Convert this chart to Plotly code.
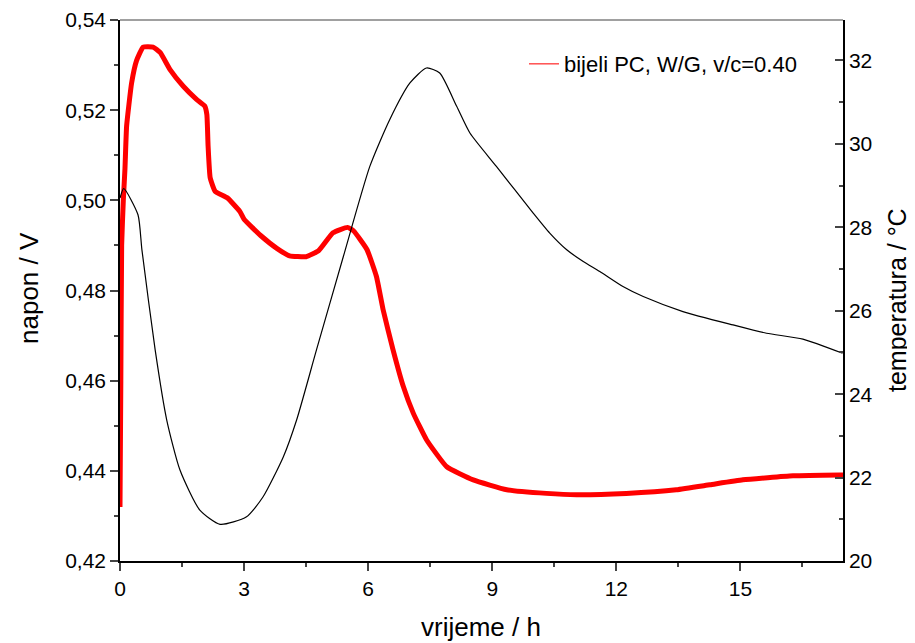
import plotly.graph_objects as go

# napon (V) vs vrijeme (h)
red_t = [0, 0.02, 0.04, 0.08, 0.12, 0.16, 0.28, 0.40, 0.56, 0.80, 0.97, 1.21, 1.53, 1.85,
         2.05, 2.10, 2.13, 2.18, 2.30, 2.60, 2.90, 3.00, 3.40, 3.80, 4.10, 4.50, 4.80, 5.15,
         5.50, 5.65, 5.97, 6.20, 6.36, 6.60, 6.85, 7.09, 7.41, 7.90, 8.54, 9.35, 10.31, 11.04,
         12.24, 13.45, 14.26, 15.06, 16.27, 17.40, 17.48]
red_v = [0.432, 0.460, 0.490, 0.500, 0.507, 0.5165, 0.526, 0.531, 0.534, 0.534, 0.5328, 0.529,
         0.5253, 0.5224, 0.5209, 0.519, 0.512, 0.505, 0.502, 0.5005, 0.4975, 0.4958, 0.4922,
         0.4893, 0.4877, 0.4875, 0.4888, 0.4928, 0.494, 0.4932, 0.4891, 0.4831, 0.4758, 0.4669,
         0.4587, 0.4528, 0.4469, 0.4409, 0.4380, 0.4358, 0.4350, 0.4347, 0.4350, 0.4358, 0.4369,
         0.4380, 0.4389, 0.4391, 0.4391]

# temperatura (°C) vs vrijeme (h)
blk_t = [0, 0.09, 0.435, 0.53, 0.85, 1.13, 1.45, 1.93, 2.42, 3.06, 3.46, 3.95, 4.27, 4.75,
         5.40, 6.04, 6.52, 7.01, 7.41, 7.73, 8.14, 8.46, 9.10, 9.99, 10.39, 10.8, 11.2, 11.6,
         12.16, 12.65, 13.61, 14.82, 15.63, 16.51, 17.47]
blk_T = [28.7, 28.93, 28.30, 27.46, 25.06, 23.38, 22.18, 21.22, 20.88, 21.06, 21.54, 22.5,
         23.38, 25.06, 27.3, 29.46, 30.58, 31.46, 31.82, 31.70, 30.90, 30.26, 29.46, 28.34,
         27.86, 27.46, 27.18, 26.94, 26.58, 26.34, 25.98, 25.66, 25.46, 25.32, 24.98]

series_name = "bijeli PC, W/G, v/c=0.40"
x_ticks = [0, 3, 6, 9, 12, 15]

FONT = "Liberation Sans, Arial, sans-serif"
OFF = 8  # default page body margin
W, H = 915 - OFF, 643 - OFF
L, R, T, B = 120 - OFF, 72, 20 - OFF, 82
PW, PH = W - L - R, H - T - B


def px_x(page_x):
    return (page_x - OFF - L) / PW


def px_y(page_y):
    return (H - B - (page_y - OFF)) / PH


fig = go.Figure()
fig.add_trace(go.Scatter(x=blk_t, y=blk_T, yaxis="y2", mode="lines",
                         line=dict(color="black", width=1.2, shape="spline", smoothing=0.6),
                         showlegend=False, hoverinfo="skip"))
fig.add_trace(go.Scatter(x=red_t, y=red_v, mode="lines",
                         line=dict(color="#ff0000", width=5, shape="spline", smoothing=0.4),
                         showlegend=False))
fig.add_trace(go.Scatter(x=[None], y=[None], mode="lines", name=series_name,
                         line=dict(color="#ff5050", width=1.5)))

axis_common = dict(showline=True, linecolor="black", linewidth=1.5, showgrid=False,
                   zeroline=False, automargin=False, tickwidth=1.5, ticklen=8,
                   tickfont=dict(size=21, family=FONT, color="black"))

fig.update_layout(
    width=W, height=H,
    margin=dict(l=L, r=R, t=T, b=B),
    plot_bgcolor="white", paper_bgcolor="white",
    separators=", ",
    font=dict(family=FONT, size=21, color="black"),
    xaxis=dict(range=[0, 17.48], tickvals=x_ticks, ticks="outside",
               minor=dict(dtick=1.5, tick0=0, ticks="outside", ticklen=4, tickwidth=1.5),
               **axis_common),
    yaxis=dict(range=[0.42, 0.54], dtick=0.02, tickformat=".2f", ticks="outside",
               minor=dict(dtick=0.01, ticks="outside", ticklen=4, tickwidth=1.5),
               **axis_common),
    yaxis2=dict(range=[20, 32.97], dtick=2, overlaying="y", side="right", ticks="inside",
                minor=dict(dtick=1, ticks="inside", ticklen=4, tickwidth=1.5),
                **axis_common),
    legend=dict(x=px_x(524), y=px_y(64), xanchor="left", yanchor="middle",
                bgcolor="rgba(0,0,0,0)", font=dict(size=22, family=FONT)),
    shapes=[dict(type="line", xref="paper", yref="paper", x0=0, x1=1, y0=1, y1=1,
                 line=dict(color="#808080", width=1.5))],
    annotations=[
        dict(text="vrijeme / h", xref="paper", yref="paper", x=px_x(481), y=px_y(627),
             showarrow=False, xanchor="center", yanchor="middle",
             font=dict(size=26, family=FONT)),
        dict(text="napon / V", xref="paper", yref="paper", x=px_x(29), y=px_y(288),
             showarrow=False, xanchor="center", yanchor="middle",
             textangle=-90, font=dict(size=26, family=FONT)),
        dict(text="temperatura / °C", xref="paper", yref="paper", x=px_x(897), y=px_y(300),
             showarrow=False, xanchor="center", yanchor="middle",
             textangle=-90, font=dict(size=25, family=FONT)),
    ],
)

fig.write_html("out.html")
